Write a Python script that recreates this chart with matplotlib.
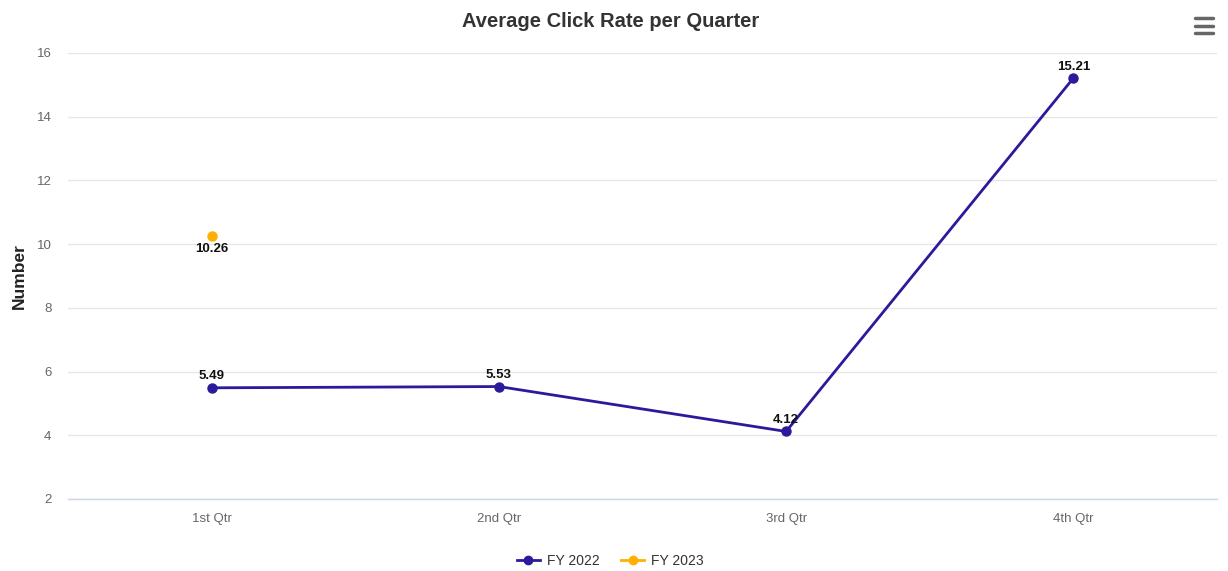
import matplotlib.pyplot as plt
from matplotlib.lines import Line2D

quarters = ["1st Qtr", "2nd Qtr", "3rd Qtr", "4th Qtr"]
fy2022 = [5.49, 5.53, 4.12, 15.21]
fy2023 = [10.26]
y_ticks = [2, 4, 6, 8, 10, 12, 14, 16]

c22 = "#2b1a9a"
c23 = "#ffb000"

plt.rcParams['font.family'] = ['Liberation Sans', 'DejaVu Sans']

fig = plt.figure(figsize=(12.28, 5.71), dpi=100)
ax = fig.add_axes([0.0554, 0.1261, 0.9356, 0.7811])

x22 = list(range(len(fy2022)))
x23 = list(range(len(fy2023)))
ax.plot(x22, fy2022, color=c22, lw=2, marker="o", ms=6.5, zorder=3)
ax.plot(x23, fy2023, color=c23, lw=2, marker="o", ms=6.5, ls="none", zorder=3)

for xi, v in zip(x22, fy2022):
    ax.annotate(f"{v:.2f}", (xi, v), xytext=(0, 4), textcoords="offset points",
                ha="center", va="bottom", fontsize=9.5, fontweight="bold", color="#111111")
for xi, v in zip(x23, fy2023):
    ax.annotate(f"{v:.2f}", (xi, v), xytext=(0, -5), textcoords="offset points",
                ha="center", va="top", fontsize=9.5, fontweight="bold", color="#111111")

ax.set_xlim(-0.5, 3.5)
ax.set_ylim(2, 16)
ax.set_yticks(y_ticks)
ax.set_xticks(x22)
ax.set_xticklabels(quarters)
ax.tick_params(axis="both", length=0, labelsize=9.5, labelcolor="#666666")
ax.tick_params(axis="x", pad=10)
ax.tick_params(axis="y", pad=12)
ax.grid(axis="y", color="#e6e6e6", lw=1)
ax.set_axisbelow(True)
for s in ["top", "right", "left"]:
    ax.spines[s].set_visible(False)
ax.spines["bottom"].set_color("#ccd6eb")
ax.spines["bottom"].set_linewidth(1)

ax.set_ylabel("Number", fontsize=12.5, fontweight="bold", color="#222222", labelpad=7)
fig.text(0.497, 0.962, "Average Click Rate per Quarter", ha="center", va="center",
         fontsize=14.5, fontweight="bold", color="#333333")

handles = [Line2D([], [], color=c22, lw=2, marker="o", ms=6),
           Line2D([], [], color=c23, lw=2, marker="o", ms=6)]
fig.legend(handles, ["FY 2022", "FY 2023"], loc="center", bbox_to_anchor=(0.497, 0.018),
           ncol=2, frameon=False, fontsize=10, handlelength=1.6, columnspacing=1.6,
           handletextpad=0.5, labelcolor="#333333")

# menu icon
for yy in (0.968, 0.955, 0.942):
    fig.add_artist(Line2D([0.9735, 0.9875], [yy, yy], color="#666666", lw=2.5,
                          solid_capstyle="round", transform=fig.transFigure))

fig.savefig("out.png", dpi=100, facecolor="white")
